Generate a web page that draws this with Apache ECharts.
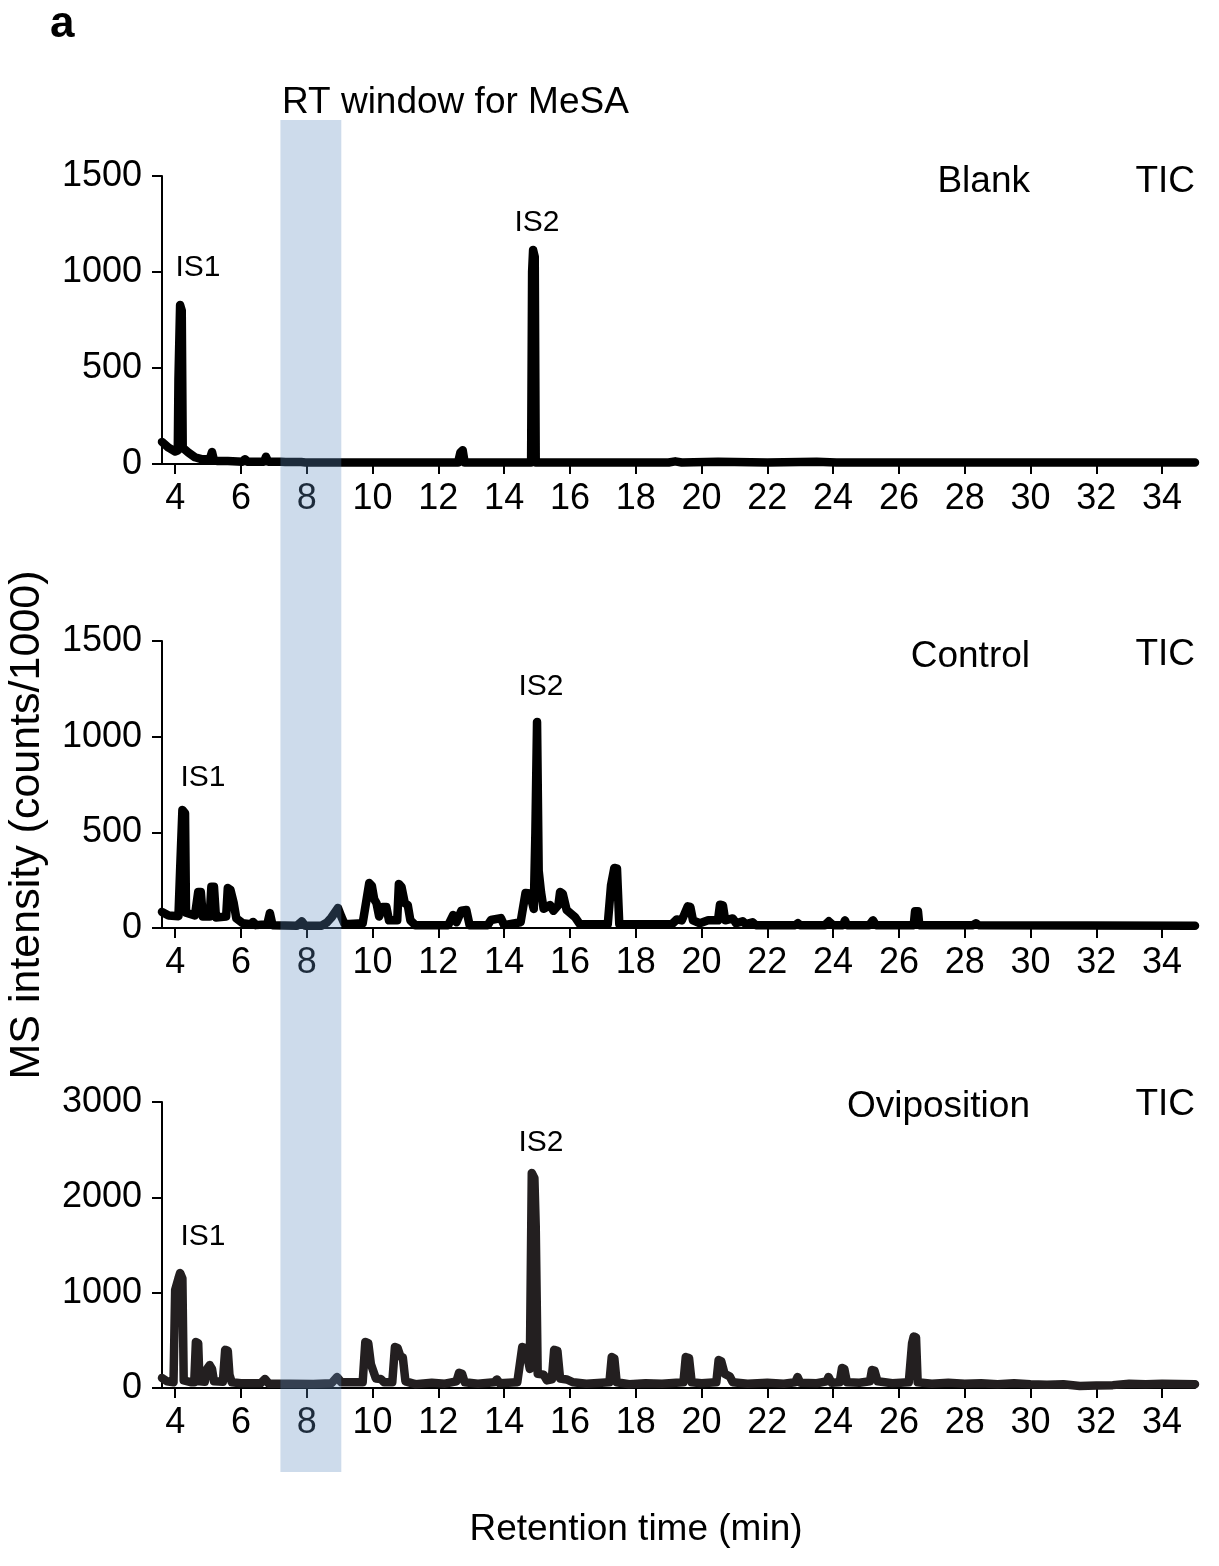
<!DOCTYPE html>
<html>
<head>
<meta charset="utf-8">
<script src="https://cdn.jsdelivr.net/npm/echarts@6/dist/echarts.min.js"></script>
<style>
  html, body { margin: 0; padding: 0; background: #fff; }
  #chart { width: 1219px; height: 1566px; }
</style>
</head>
<body>
<div id="chart"></div>
<script>
// retention time ticks (min)
var rtTicks = [4, 6, 8, 10, 12, 14, 16, 18, 20, 22, 24, 26, 28, 30, 32, 34];
// RT window for MeSA (min)
var mesaWindow = [7.2, 9.05];

// TIC traces, [retention time (min), counts/1000]
var blank = [
  [3.6,115],[3.8,85],[4.0,65],[4.08,70],[4.1,440],[4.15,828],[4.2,800],[4.23,85],[4.4,60],[4.6,35],
  [4.8,25],[5.05,25],[5.12,62],[5.18,20],[5.3,15],[5.6,15],[6.05,12],[6.12,25],[6.2,12],[6.7,12],
  [6.76,38],[6.83,12],[7.22,12],[7.28,22],[7.35,10],[7.83,10],[7.89,20],[7.96,8],[12.6,8],[12.67,60],
  [12.74,72],[12.8,8],[14.82,8],[14.85,1000],[14.88,1115],[14.93,1080],[14.96,8],[19.0,8],[19.2,14],
  [19.4,8],[20.5,12],[22.0,8],[23.5,12],[24.1,8],[35,8]
];
var control = [
  [3.6,84],[3.8,65],[4.1,62],[4.15,300],[4.22,617],[4.3,600],[4.33,80],[4.6,65],[4.7,188],[4.78,188],
  [4.84,60],[5.05,60],[5.1,215],[5.18,215],[5.24,55],[5.55,60],[5.6,209],[5.68,200],[5.78,130],[5.86,50],
  [6.05,25],[6.3,20],[6.37,32],[6.45,15],[6.8,20],[6.88,78],[6.96,15],[7.7,12],[7.85,35],[7.95,12],
  [8.45,12],[8.62,30],[8.75,55],[8.95,105],[9.05,60],[9.15,20],[9.7,25],[9.9,235],[9.98,220],[10.05,150],
  [10.12,130],[10.2,60],[10.3,110],[10.42,110],[10.5,40],[10.75,40],[10.8,230],[10.88,215],[10.98,130],
  [11.07,120],[11.15,40],[11.3,15],[12.3,15],[12.45,68],[12.55,30],[12.7,90],[12.85,94],[12.95,15],
  [13.5,15],[13.6,42],[13.9,52],[14.0,15],[14.5,30],[14.65,183],[14.78,180],[14.9,100],[14.95,500],
  [15.0,1077],[15.05,300],[15.12,188],[15.2,100],[15.4,120],[15.5,90],[15.65,120],[15.7,188],[15.78,180],
  [15.9,94],[16.15,58],[16.3,20],[17.15,20],[17.25,225],[17.35,314],[17.43,310],[17.5,20],[19.1,20],
  [19.25,45],[19.4,40],[19.58,113],[19.66,110],[19.74,40],[19.95,25],[20.2,40],[20.5,40],[20.56,122],
  [20.65,118],[20.72,40],[20.95,50],[21.05,25],[21.25,35],[21.35,20],[21.55,30],[21.65,15],[22.85,15],
  [22.93,25],[23.0,15],[23.75,15],[23.87,35],[24.0,15],[24.3,15],[24.36,40],[24.42,15],[25.1,15],
  [25.21,40],[25.3,15],[26.45,15],[26.49,87],[26.58,87],[26.62,15],[28.25,15],[28.34,25],[28.42,15],[35,12]
];
var oviposition = [
  [3.6,105],[3.75,70],[3.95,60],[4.0,1028],[4.1,1150],[4.15,1206],[4.22,1150],[4.26,80],[4.5,60],[4.58,60],
  [4.63,483],[4.7,470],[4.74,70],[4.9,65],[4.97,200],[5.05,240],[5.12,200],[5.18,70],[5.45,65],[5.52,400],
  [5.6,390],[5.65,140],[5.72,60],[6.0,50],[6.6,50],[6.73,95],[6.85,45],[7.5,45],[8.2,42],[8.75,50],
  [8.92,115],[9.05,60],[9.7,60],[9.78,483],[9.87,470],[9.95,250],[10.0,200],[10.1,100],[10.25,95],[10.35,60],
  [10.6,60],[10.68,430],[10.76,420],[10.85,330],[10.92,320],[11.0,70],[11.3,40],[11.8,55],[12.2,45],[12.55,70],
  [12.63,160],[12.72,150],[12.8,60],[13.2,45],[13.7,60],[13.78,90],[13.86,50],[14.4,60],[14.55,430],[14.65,420],
  [14.78,200],[14.84,2255],[14.92,2200],[14.96,1700],[15.02,150],[15.2,140],[15.3,80],[15.45,90],[15.52,400],
  [15.62,390],[15.7,100],[15.9,90],[16.1,60],[16.5,45],[17.2,60],[17.27,325],[17.35,310],[17.42,60],[17.8,40],
  [18.3,50],[18.8,45],[19.45,60],[19.52,325],[19.62,315],[19.7,60],[20.0,50],[20.45,60],[20.52,294],[20.6,280],
  [20.7,150],[20.86,120],[20.95,60],[21.4,45],[22.0,55],[22.5,45],[22.85,60],[22.92,115],[23.0,55],[23.5,50],
  [23.8,70],[23.86,115],[23.95,55],[24.2,60],[24.27,210],[24.34,200],[24.42,60],[24.8,55],[25.12,70],[25.18,190],
  [25.26,180],[25.35,70],[25.8,50],[26.3,60],[26.4,470],[26.45,540],[26.52,530],[26.57,60],[27.0,45],[27.5,55],
  [28.0,45],[28.5,50],[29.0,40],[29.5,50],[30.0,40],[30.5,35],[31.0,40],[31.5,20],[32.0,25],[32.5,30],
  [33.0,45],[33.5,40],[34.0,45],[35,40]
];

var FONT = "'Liberation Sans', Arial, sans-serif";
var panels = [
  { data: blank, color: '#000', max: 1500, interval: 500, top: 176, height: 288 },
  { data: control, color: '#000', max: 1500, interval: 500, top: 641, height: 287 },
  { data: oviposition, color: '#231f20', max: 3000, interval: 1000, top: 1102, height: 286 }
];

var myChart = echarts.init(document.getElementById('chart'));

var grids = [], xAxes = [], yAxes = [], series = [];
panels.forEach(function (p, i) {
  grids.push({ left: 162, right: 24, top: p.top, height: p.height });
  xAxes.push({
    type: 'value', gridIndex: i, min: 3.6, max: 35,
    axisLine: { onZero: false, lineStyle: { color: '#000', width: 2 } },
    axisTick: { length: 10, lineStyle: { color: '#000', width: 2 }, customValues: rtTicks },
    axisLabel: { customValues: rtTicks, color: '#000', fontSize: 36, fontFamily: FONT, margin: 17 },
    splitLine: { show: false }
  });
  yAxes.push({
    type: 'value', gridIndex: i, min: 0, max: p.max, interval: p.interval,
    axisLine: { show: true, lineStyle: { color: '#000', width: 2 } },
    axisTick: { show: true, length: 10, lineStyle: { color: '#000', width: 2 } },
    axisLabel: { color: '#000', fontSize: 36, fontFamily: FONT, margin: 20, formatter: function (v) { return String(v); } },
    splitLine: { show: false }
  });
  series.push({
    type: 'line', xAxisIndex: i, yAxisIndex: i, data: p.data,
    showSymbol: false, symbol: 'none', animation: false,
    lineStyle: { color: p.color, width: 8.5, cap: 'round', join: 'round' }
  });
});

// overlay grid spanning all three panels for the shaded RT window
grids.push({ left: 162, right: 24, top: 120, bottom: 94 });
xAxes.push({ type: 'value', gridIndex: 3, min: 3.6, max: 35, show: false });
yAxes.push({ type: 'value', gridIndex: 3, min: 0, max: 1, show: false });
series.push({
  type: 'line', xAxisIndex: 3, yAxisIndex: 3, data: [[8, 0.5]],
  showSymbol: false, symbol: 'none', lineStyle: { opacity: 0 }, z: 10, silent: true,
  markArea: {
    silent: true, z: 10,
    itemStyle: { color: 'rgba(95,138,192,0.31)' },
    data: [[{ xAxis: mesaWindow[0] }, { xAxis: mesaWindow[1] }]]
  }
});

function txt(x, y, s, size, align, extra) {
  var o = {
    type: 'text', x: x, y: y, z: 20,
    style: { text: s, font: size + 'px ' + FONT, fill: '#000', textAlign: align || 'left', textVerticalAlign: 'middle' }
  };
  if (extra) { for (var k in extra) o[k] = extra[k]; }
  return o;
}

var option = {
  animation: false,
  backgroundColor: '#fff',
  grid: grids,
  xAxis: xAxes,
  yAxis: yAxes,
  series: series,
  graphic: [
    { type: 'text', x: 50, y: 25, z: 20, style: { text: 'a', font: 'bold 44px ' + FONT, fill: '#000', textVerticalAlign: 'middle' } },
    txt(282, 103, 'RT window for MeSA', 37),
    txt(1030, 182, 'Blank', 37, 'right'),
    txt(1195, 182, 'TIC', 37, 'right'),
    txt(1030, 657, 'Control', 37, 'right'),
    txt(1195, 655, 'TIC', 37, 'right'),
    txt(1030, 1107, 'Oviposition', 37, 'right'),
    txt(1195, 1105, 'TIC', 37, 'right'),
    txt(198, 268, 'IS1', 30, 'center'),
    txt(537, 223, 'IS2', 30, 'center'),
    txt(203, 778, 'IS1', 30, 'center'),
    txt(541, 687, 'IS2', 30, 'center'),
    txt(203, 1237, 'IS1', 30, 'center'),
    txt(541, 1143, 'IS2', 30, 'center'),
    txt(636, 1530, 'Retention time (min)', 37, 'center'),
    txt(27, 825, 'MS intensity (counts/1000)', 43, 'center', { rotation: Math.PI / 2 })
  ]
};
myChart.setOption(option);
</script>
</body>
</html>
